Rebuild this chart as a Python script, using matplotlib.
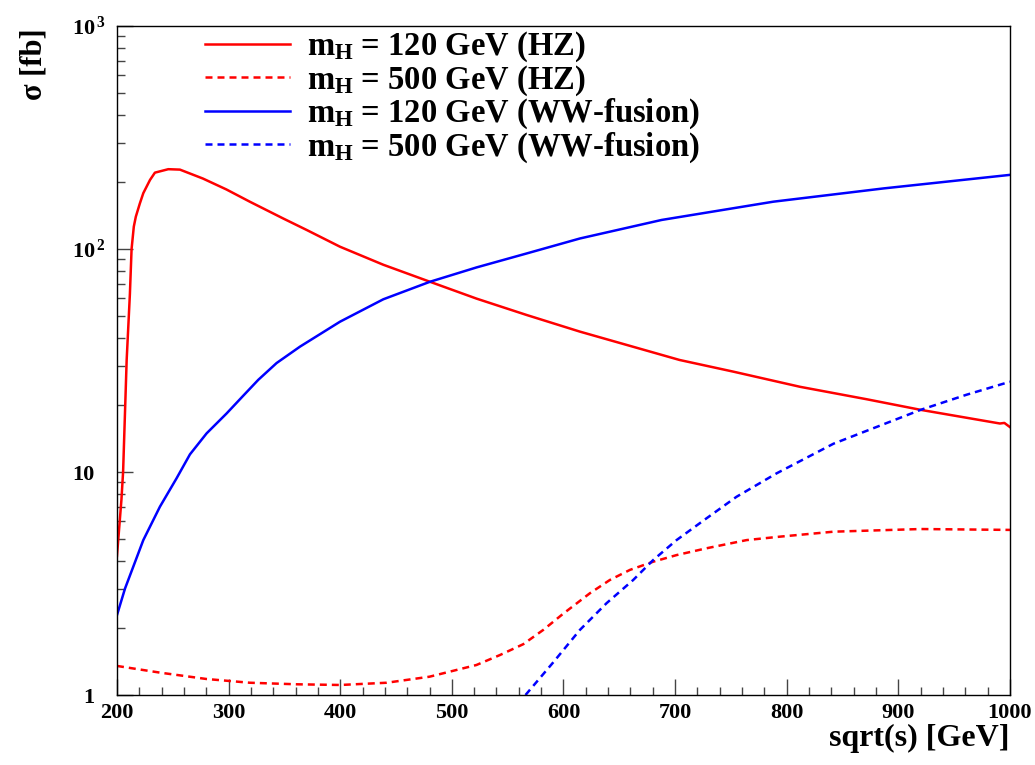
import matplotlib
matplotlib.use('Agg')
import matplotlib.pyplot as plt
from matplotlib.transforms import ScaledTranslation
from matplotlib.ticker import FixedLocator, FixedFormatter, LogLocator, NullFormatter, MultipleLocator

# sqrt(s) [GeV] and cross sections [fb]
sqrt_s_hz120 = [200, 204, 205.5, 208.7, 211.6, 213.1, 215.1, 216.9, 220.5, 223.6, 229.6, 234,
                246, 256.4, 277, 298, 319, 349, 370, 399.8, 438.6, 480.4, 522.2, 567, 614.8,
                704, 752, 812, 871.6, 920, 991, 995, 1000]
sigma_hz120 = [4.2, 7.5, 10, 31.8, 63, 100, 126, 139.6, 160, 178, 204, 220,
               228, 227, 207, 185, 163, 137, 121.7, 102.4, 85, 71.3, 59.9, 50.6, 42.6,
               31.8, 28.2, 24.1, 21.2, 19.0, 16.5, 16.6, 15.9]

sqrt_s_hz500 = [200, 238.5, 280, 319, 361, 400, 441.6, 480, 522, 543, 564, 582, 600, 623.7,
                641.6, 659.6, 680.4, 701.3, 728.2, 764, 794, 842, 920, 1000]
sigma_hz500 = [1.35, 1.26, 1.18, 1.135, 1.117, 1.109, 1.135, 1.208, 1.363, 1.51, 1.69, 1.96,
               2.32, 2.86, 3.28, 3.64, 3.96, 4.24, 4.55, 4.95, 5.13, 5.4, 5.55, 5.5]

sqrt_s_ww120 = [200, 207.2, 214.6, 223.6, 238.5, 253.4, 265.4, 280.3, 298.2, 313.2, 326.6,
                343, 364, 399.8, 438.6, 480.4, 522.2, 567, 614.8, 688, 788, 887, 1000]
sigma_ww120 = [2.28, 3.0, 3.76, 4.95, 6.99, 9.37, 12.0, 14.9, 18.3, 22.0, 25.9,
               30.8, 36.5, 47.2, 59.5, 71.3, 82.7, 95.5, 111.5, 135, 163, 187, 215]

sqrt_s_ww500 = [566, 590.8, 614.8, 638.6, 662.5, 680.4, 701.3, 728.2, 755, 790.9, 842, 920,
                961, 1000]
sigma_ww500 = [1.0, 1.40, 1.96, 2.58, 3.28, 4.03, 4.95, 6.2, 7.74, 9.86, 13.4, 19.0,
               22.2, 25.4]

labels = [r'$m_{H}$ = 120 GeV (HZ)', r'$m_{H}$ = 500 GeV (HZ)',
          r'$m_{H}$ = 120 GeV (WW-fusion)', r'$m_{H}$ = 500 GeV (WW-fusion)']
ytick_vals = [1, 10, 100, 1000]
ytick_labels = ['1', '10', r'$10^{\,2}$', r'$10^{\,3}$']

plt.rcParams['font.family'] = 'Liberation Serif'
plt.rcParams['font.weight'] = 'bold'
plt.rcParams['mathtext.fontset'] = 'custom'
plt.rcParams['mathtext.rm'] = 'Liberation Serif:bold'
plt.rcParams['mathtext.it'] = 'Liberation Serif:bold'
plt.rcParams['mathtext.bf'] = 'Liberation Serif:bold'

fig = plt.figure(figsize=(10.35, 7.65), dpi=100)
ax = fig.add_axes([0.113, 0.0915, 0.8628, 0.8745])

dash = (0, (2.8, 2))
ax.plot(sqrt_s_hz120, sigma_hz120, color='#ff0000', lw=1.8, label=labels[0])
ax.plot(sqrt_s_hz500, sigma_hz500, color='#ff0000', lw=1.8, ls=dash, label=labels[1])
ax.plot(sqrt_s_ww120, sigma_ww120, color='#0000ff', lw=1.8, label=labels[2])
ax.plot(sqrt_s_ww500, sigma_ww500, color='#0000ff', lw=1.8, ls=dash, label=labels[3])

ax.set_yscale('log')
ax.set_xlim(200, 1000)
ax.set_ylim(1, 1000)

# ROOT-like ticks: inside, only bottom and left
ax.xaxis.set_major_locator(MultipleLocator(100))
ax.xaxis.set_minor_locator(MultipleLocator(20))
ax.yaxis.set_major_locator(FixedLocator(ytick_vals))
ax.yaxis.set_major_formatter(FixedFormatter(ytick_labels))
ax.yaxis.set_minor_locator(LogLocator(base=10, subs=range(2, 10)))
ax.yaxis.set_minor_formatter(NullFormatter())
ax.tick_params(which='both', direction='in', top=False, right=False, labelsize=16, color='#444444')
ax.tick_params(which='major', length=11.5, width=1)
ax.tick_params(which='minor', length=5.8, width=1)
ax.tick_params(axis='x', pad=6)
ax.tick_params(axis='y', pad=16)
for s in ax.spines.values():
    s.set_linewidth(1.0)

ax.set_xlabel('sqrt(s) [GeV]', fontsize=23, fontweight='bold', loc='right')
ax.xaxis.set_label_coords(1.0, -0.043)
ax.xaxis.label.set_verticalalignment('top')
ax.set_ylabel('σ [fb]', fontsize=22, fontweight='bold', loc='top')
ax.yaxis.set_label_coords(-0.077, 0.997)

ax.legend(loc='upper left', bbox_to_anchor=(0.0985, 0.994), frameon=False, fontsize=23.5,
          handlelength=2.6, handletextpad=0.52, labelspacing=-0.03, borderpad=0,
          borderaxespad=0)

# keep the "10" of 10^n under the other labels, exponent sticking out to the right
fig.canvas.draw()
shift = ScaledTranslation(0.11, 0, fig.dpi_scale_trans)
for lbl in ax.yaxis.get_majorticklabels():
    if '^' in lbl.get_text():
        lbl.set_transform(lbl.get_transform() + shift)

fig.savefig('out.png', dpi=100)
